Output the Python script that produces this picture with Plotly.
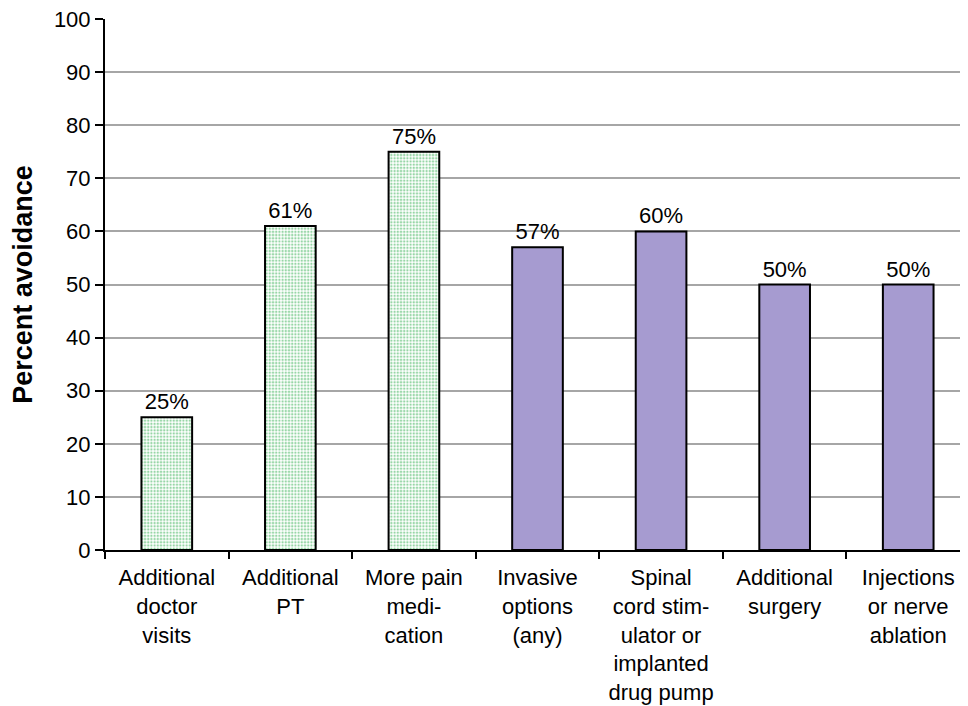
import plotly.graph_objects as go

categories = [
    "Additional<br>doctor<br>visits",
    "Additional<br>PT",
    "More pain<br>medi-<br>cation",
    "Invasive<br>options<br>(any)",
    "Spinal<br>cord stim-<br>ulator or<br>implanted<br>drug pump",
    "Additional<br>surgery",
    "Injections<br>or nerve<br>ablation",
]
values = [25, 61, 75, 57, 60, 50, 50]
labels = ["25%", "61%", "75%", "57%", "60%", "50%", "50%"]
groups = ["care", "care", "care", "invasive", "invasive", "invasive", "invasive"]
y_ticks = [0, 10, 20, 30, 40, 50, 60, 70, 80, 90, 100]

green_idx = [i for i, g in enumerate(groups) if g == "care"]
purple_idx = [i for i, g in enumerate(groups) if g == "invasive"]

FONT = "Arial, Liberation Sans, Helvetica, sans-serif"

fig = go.Figure()
fig.add_trace(go.Bar(
    x=[categories[i] for i in green_idx],
    y=[values[i] for i in green_idx],
    text=[labels[i] for i in green_idx],
    textposition="outside",
    cliponaxis=False,
    textfont=dict(family=FONT, size=22, color="black"),
    width=0.41,
    marker=dict(
        color="white",
        line=dict(color="black", width=2),
        pattern=dict(shape=".", fgcolor="#2fae4e", bgcolor="white", size=3.2, solidity=0.45),
    ),
    showlegend=False,
))
fig.add_trace(go.Bar(
    x=[categories[i] for i in purple_idx],
    y=[values[i] for i in purple_idx],
    text=[labels[i] for i in purple_idx],
    textposition="outside",
    cliponaxis=False,
    textfont=dict(family=FONT, size=22, color="black"),
    width=0.41,
    marker=dict(color="#a69bd0", line=dict(color="black", width=2)),
    showlegend=False,
))

# page body has a default margin; margins compensate so the plot area
# lands at about x 103..968, y 19..550 in the 968x706 window
fig.update_layout(
    width=968, height=706,
    margin=dict(l=97, r=6, t=11, b=164),
    paper_bgcolor="white", plot_bgcolor="white",
    font=dict(family=FONT, size=22, color="black"),
    barmode="overlay",
    xaxis=dict(
        type="category",
        categoryorder="array", categoryarray=categories,
        tickson="boundaries",
        ticks="outside", ticklen=7, tickwidth=2, tickcolor="black",
        showline=True, linecolor="black", linewidth=2,
        showgrid=False,
        tickfont=dict(size=22),
        ticklabelstandoff=7,
        ticklabeloverflow="allow",
        range=[-0.5, 6.5],
        automargin=False,
    ),
    yaxis=dict(
        range=[0, 100],
        tickvals=y_ticks,
        ticks="outside", ticklen=8, tickwidth=2, tickcolor="black",
        showline=True, linecolor="black", linewidth=2,
        showgrid=True, gridcolor="#a6a6a6", gridwidth=2,
        zeroline=False,
        tickfont=dict(size=22),
        ticklabeloverflow="allow",
        automargin=False,
        title=dict(text="<b>Percent avoidance</b>", font=dict(size=27), standoff=13),
    ),
)

fig.write_html("out.html")
